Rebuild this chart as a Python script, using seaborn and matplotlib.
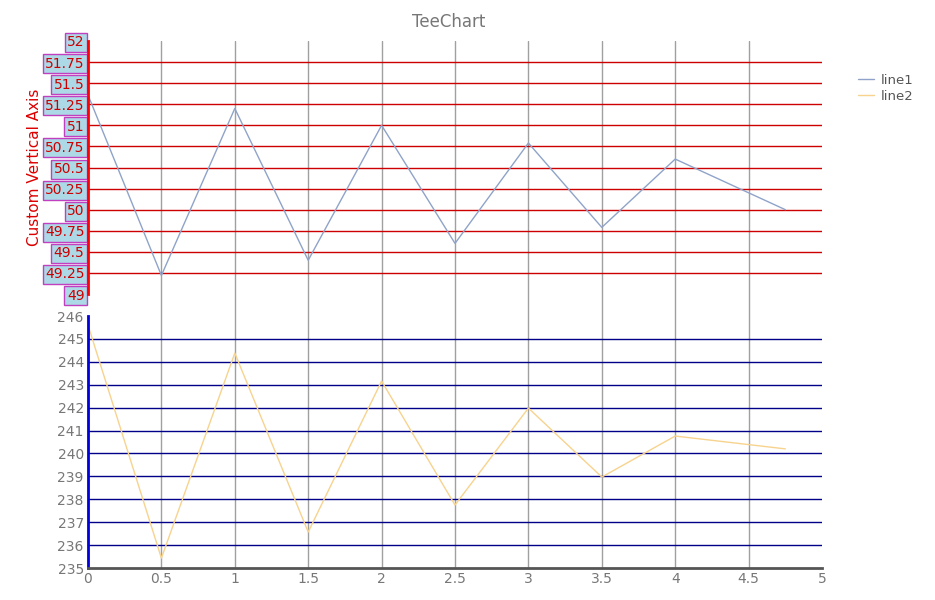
import pandas as pd
import matplotlib.pyplot as plt
import seaborn as sns

sns.set_style("white")
plt.rcParams['font.family'] = ['DejaVu Sans']

# Data
x_vals = [0, 0.5, 1, 1.5, 2, 2.5, 3, 3.5, 4, 4.75]
line1 = [51.36, 49.22, 51.2, 49.4, 51.0, 49.6, 50.79, 49.79, 50.6, 50.0]
line2 = [245.6, 235.43, 244.38, 236.57, 243.16, 237.75, 241.98, 238.97, 240.76, 240.2]
top_ticks = [49, 49.25, 49.5, 49.75, 50, 50.25, 50.5, 50.75, 51, 51.25, 51.5, 51.75, 52]
bottom_ticks = list(range(235, 247))
x_ticks = [0, 0.5, 1, 1.5, 2, 2.5, 3, 3.5, 4, 4.5, 5]

df1 = pd.DataFrame({"x": x_vals, "y": line1})
df2 = pd.DataFrame({"x": x_vals, "y": line2})

W, H = 935, 600
fig = plt.figure(figsize=(W / 100, H / 100), dpi=100)

def rect(l, t, r, b):
    return [l / W, 1 - b / H, (r - l) / W, (b - t) / H]

# background axes carrying the vertical grid across both panels
bg = fig.add_axes(rect(88, 41, 822, 568))
bg.set_xlim(0, 5)
bg.set_xticks(x_ticks[1:-1])
bg.set_yticks([])
bg.grid(axis="x", color="#a0a0a0", linewidth=1)
bg.tick_params(labelbottom=False, length=0)
for s in bg.spines.values():
    s.set_visible(False)

ax1 = fig.add_axes(rect(88, 41, 822, 294))
ax2 = fig.add_axes(rect(88, 316, 822, 568))
for ax in (ax1, ax2):
    ax.patch.set_alpha(0)
    ax.set_xlim(0, 5)
    for s in ax.spines.values():
        s.set_visible(False)

# top panel
sns.lineplot(data=df1, x="x", y="y", ax=ax1, color="#8fa3c9", linewidth=1, label="line1", legend=False)
ax1.set_ylim(49, 52)
ax1.set_yticks(top_ticks)
ax1.set_yticklabels([f"{t:g}" for t in top_ticks])
ax1.set_xticks([])
ax1.set_xlabel("")
ax1.set_ylabel("Custom Vertical Axis", color="#dd0000", fontsize=11, labelpad=2)
for t in top_ticks[1:-1]:
    ax1.axhline(t, color="#cc0000", linewidth=1, zorder=0)
ax1.spines["left"].set_visible(True)
ax1.spines["left"].set_color("#ff0000")
ax1.spines["left"].set_linewidth(2)
ax1.tick_params(axis="y", length=0, pad=2.5, labelsize=10, labelcolor="#cc0000")
for lbl in ax1.get_yticklabels():
    lbl.set_bbox(dict(facecolor="#add8e6", edgecolor="#c040c0", pad=1.8, linewidth=1))

# bottom panel
sns.lineplot(data=df2, x="x", y="y", ax=ax2, color="#f7d38e", linewidth=1, label="line2", legend=False)
ax2.set_ylim(235, 246)
ax2.set_yticks(bottom_ticks)
ax2.set_xticks(x_ticks)
ax2.set_xticklabels([f"{t:g}" for t in x_ticks])
ax2.set_xlabel("")
ax2.set_ylabel("")
for t in bottom_ticks[1:-1]:
    ax2.axhline(t, color="#000088", linewidth=1, zorder=0)
ax2.spines["left"].set_visible(True)
ax2.spines["left"].set_color("#0000dd")
ax2.spines["left"].set_linewidth(2)
ax2.spines["bottom"].set_visible(True)
ax2.spines["bottom"].set_color("#555555")
ax2.spines["bottom"].set_linewidth(2)
ax2.tick_params(axis="both", length=0, pad=3, labelsize=10, labelcolor="#777777")

fig.text(449 / W, 1 - 22 / H, "TeeChart", ha="center", va="center", fontsize=12, color="#777777")

h1, l1 = ax1.get_legend_handles_labels()
h2, l2 = ax2.get_legend_handles_labels()
fig.legend(h1 + h2, l1 + l2, loc="upper left", bbox_to_anchor=(846 / W, 1 - 62 / H),
           frameon=False, fontsize=9.5, handlelength=1.2, handletextpad=0.5,
           labelspacing=0.2, labelcolor="#555555")

plt.savefig("out.png", dpi=100)
